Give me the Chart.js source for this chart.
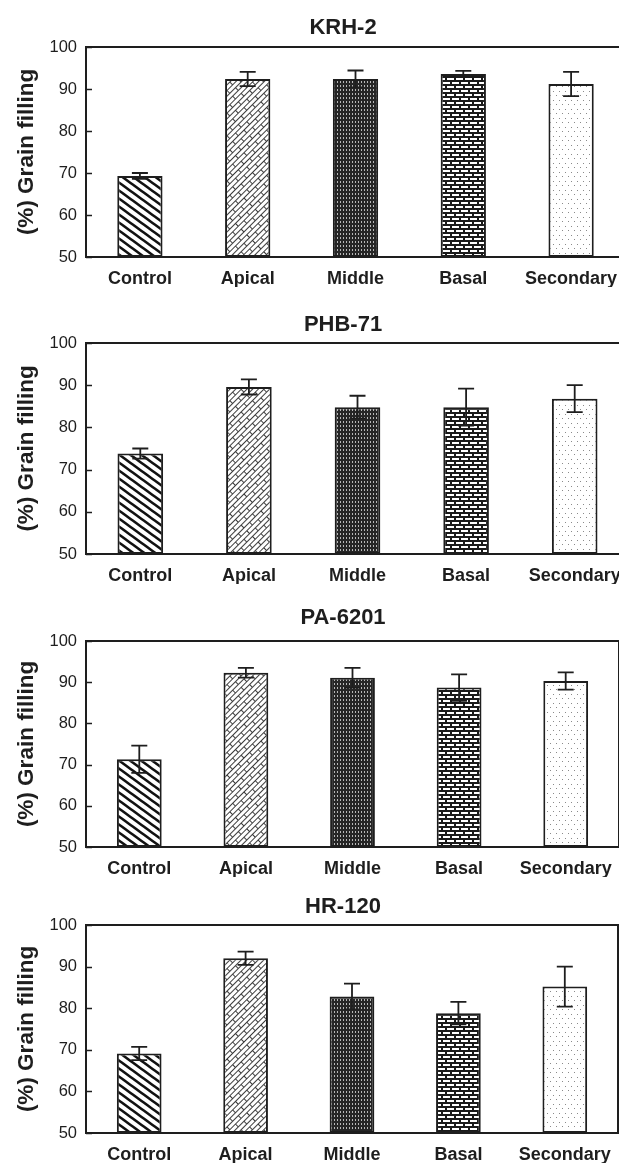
<!DOCTYPE html>
<html>
<head>
<meta charset="utf-8">
<script src="https://cdn.jsdelivr.net/npm/chart.js@4.4.0/dist/chart.umd.min.js"></script>
<style>
  html, body { margin: 0; padding: 0; background: #fff; overflow: hidden; width: 619px; height: 1163px; }
  .panel { position: absolute; left: 0; width: 640px; height: 300px; }
</style>
</head>
<body>
<div class="panel" style="top:0px"><canvas id="c0" width="640" height="300"></canvas></div>
<div class="panel" style="top:296px"><canvas id="c1" width="640" height="300"></canvas></div>
<div class="panel" style="top:594px"><canvas id="c2" width="640" height="300"></canvas></div>
<div class="panel" style="top:878px"><canvas id="c3" width="640" height="300"></canvas></div>
<script>
// data
const categories = ['Control', 'Apical', 'Middle', 'Basal', 'Secondary'];
const cultivars = ['KRH-2', 'PHB-71', 'PA-6201', 'HR-120'];

const krh2Means = [69.3, 92.4, 92.4, 93.6, 91.2];
const krh2Err   = [0.7, 1.7, 2.0, 0.7, 2.9];
const phb71Means = [73.8, 89.6, 84.8, 84.8, 86.8];
const phb71Err   = [1.2, 1.8, 2.7, 4.4, 3.2];
const pa6201Means = [71.3, 92.3, 91.1, 88.7, 90.3];
const pa6201Err   = [3.3, 1.2, 2.4, 3.2, 2.1];
const hr120Means = [69.1, 92.0, 82.8, 78.8, 85.2];
const hr120Err   = [1.6, 1.6, 3.1, 2.7, 4.8];

const yMin = 50, yMax = 100, yStep = 5, yLabelStep = 10;
const yAxisLabel = '(%) Grain filling';

const allMeans = [krh2Means, phb71Means, pa6201Means, hr120Means];
const allErr = [krh2Err, phb71Err, pa6201Err, hr120Err];

// layout of each panel inside its canvas
const CH = 300;
const plotBottom = [257, 258, 253, 255];
const plotRight = [625, 629, 619, 618];
const titleY = [28, 29, 24, 29];

const FONT = '"Liberation Sans", Arial, Helvetica, sans-serif';
const INK = '#1e1e1e';

function makeTile(w, h, draw) {
  const c = document.createElement('canvas');
  c.width = w; c.height = h;
  const g = c.getContext('2d');
  draw(g, w, h);
  return c;
}

function stripes(ctx) {
  const t = makeTile(11, 8, (g, w, h) => {
    g.fillStyle = '#fff'; g.fillRect(0, 0, w, h);
    g.strokeStyle = '#111'; g.lineWidth = 2.6;
    for (let k = -1; k <= 1; k++) {
      g.beginPath();
      g.moveTo(k * w - w, -h);
      g.lineTo(k * w + 2 * w, 2 * h);
      g.stroke();
    }
  });
  return ctx.createPattern(t, 'repeat');
}

function diagBricks(ctx) {
  const t = makeTile(16, 8, (g, w, h) => {
    g.fillStyle = '#fff'; g.fillRect(0, 0, w, h);
    g.fillStyle = '#3c3c3c';
    g.fillRect(0, 0, w, 1);
    g.fillRect(0, 4, w, 1);
    g.fillRect(0, 0, 1, 4);
    g.fillRect(8, 4, 1, 4);
  });
  const p = ctx.createPattern(t, 'repeat');
  p.setTransform(new DOMMatrix().rotate(-45));
  return p;
}

function mesh(ctx) {
  const t = makeTile(3, 4, (g, w, h) => {
    g.fillStyle = '#262626'; g.fillRect(0, 0, w, h);
    g.fillStyle = '#b8b8b8'; g.fillRect(1, 1, 1, 2);
  });
  return ctx.createPattern(t, 'repeat');
}

function bricks(ctx) {
  const t = makeTile(18, 8, (g, w, h) => {
    g.fillStyle = '#fff'; g.fillRect(0, 0, w, h);
    g.fillStyle = '#1a1a1a';
    g.fillRect(0, 0, w, 2);
    g.fillRect(0, 4, w, 2);
    g.fillRect(0, 0, 2, 4);
    g.fillRect(9, 0, 2, 4);
    g.fillRect(4, 4, 2, 4);
    g.fillRect(13, 4, 2, 4);
  });
  return ctx.createPattern(t, 'repeat');
}

function dots(ctx) {
  const t = makeTile(6, 9, (g, w, h) => {
    g.fillStyle = '#fff'; g.fillRect(0, 0, w, h);
    g.fillStyle = '#8a8a8a';
    g.fillRect(1, 1, 1, 1);
    g.fillRect(4, 5, 1, 1);
  });
  return ctx.createPattern(t, 'repeat');
}

const errorBars = {
  id: 'errorBars',
  afterDatasetsDraw(chart) {
    const { ctx, scales: { y } } = chart;
    const ds = chart.data.datasets[0];
    const meta = chart.getDatasetMeta(0);
    ctx.save();
    ctx.strokeStyle = INK;
    ctx.lineWidth = 1.8;
    meta.data.forEach((bar, i) => {
      const v = ds.data[i], e = ds.errorBars[i];
      const top = y.getPixelForValue(v + e);
      const bot = y.getPixelForValue(v - e);
      ctx.beginPath();
      ctx.moveTo(bar.x, top); ctx.lineTo(bar.x, bot);
      ctx.moveTo(bar.x - 8, top); ctx.lineTo(bar.x + 8, top);
      ctx.moveTo(bar.x - 8, bot); ctx.lineTo(bar.x + 8, bot);
      ctx.stroke();
    });
    ctx.restore();
  }
};

const frame = {
  id: 'frame',
  afterDraw(chart, args, opts) {
    const { ctx, chartArea: a, scales: { y } } = chart;
    ctx.save();
    ctx.strokeStyle = INK;
    ctx.lineWidth = 2;
    ctx.strokeRect(a.left, a.top, a.right - a.left, a.bottom - a.top);
    ctx.lineWidth = 1.5;
    y.ticks.forEach(t => {
      const py = Math.round(y.getPixelForValue(t.value)) + 0.5;
      ctx.beginPath();
      ctx.moveTo(a.left, py);
      ctx.lineTo(a.left + 6, py);
      ctx.stroke();
    });
    ctx.fillStyle = INK;
    ctx.font = 'bold 22px ' + FONT;
    ctx.textAlign = 'center';
    ctx.textBaseline = 'middle';
    ctx.fillText(opts.text, opts.x, opts.y);
    ctx.restore();
  }
};

cultivars.forEach((name, p) => {
  const canvas = document.getElementById('c' + p);
  const ctx = canvas.getContext('2d');
  new Chart(ctx, {
    type: 'bar',
    data: {
      labels: categories,
      datasets: [{
        data: allMeans[p],
        errorBars: allErr[p],
        base: yMin,
        backgroundColor: [stripes(ctx), diagBricks(ctx), mesh(ctx), bricks(ctx), dots(ctx)],
        borderColor: INK,
        borderWidth: 2,
        borderSkipped: false,
        categoryPercentage: 1,
        barPercentage: 0.42
      }]
    },
    options: {
      responsive: false,
      animation: false,
      events: [],
      layout: {
        padding: { top: 47, left: 0, right: 640 - plotRight[p], bottom: CH - plotBottom[p] - 30 }
      },
      plugins: {
        legend: { display: false },
        tooltip: { enabled: false },
        frame: { text: name, x: 343, y: titleY[p] }
      },
      scales: {
        x: {
          grid: { display: false, drawTicks: false },
          border: { display: false },
          ticks: {
            color: INK,
            padding: 11,
            autoSkip: false,
            maxRotation: 0,
            font: { family: FONT, size: 18, weight: 'bold' }
          },
          afterFit(s) { s.height = 30; }
        },
        y: {
          min: yMin,
          max: yMax,
          grid: { display: false, drawTicks: false },
          border: { display: false },
          ticks: {
            stepSize: yStep,
            color: INK,
            padding: 9,
            font: { family: FONT, size: 16.5 },
            callback: v => (v % yLabelStep === 0 ? v : '')
          },
          title: {
            display: true,
            text: yAxisLabel,
            color: INK,
            padding: { top: 13, bottom: 0 },
            font: { family: FONT, size: 22.5, weight: 'bold' }
          },
          afterFit(s) { s.width = 86; }
        }
      }
    },
    plugins: [errorBars, frame]
  });
});
</script>
</body>
</html>
